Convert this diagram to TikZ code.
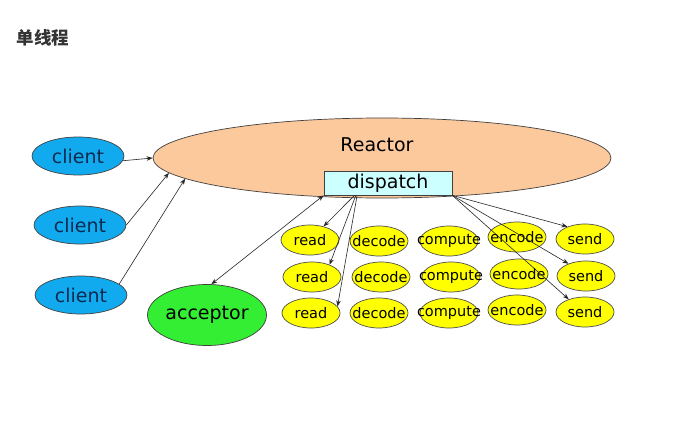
\documentclass[tikz,border=0pt]{standalone}
\usepackage{fontspec}
\setmainfont{DejaVu Sans}
\newfontfamily\cjk{Noto Sans CJK SC}
\usetikzlibrary{shapes.geometric,arrows.meta,calc}
\definecolor{reactorfill}{HTML}{FCC99C}
\definecolor{dispfill}{HTML}{CCFFFF}
\definecolor{clientfill}{HTML}{12AAEE}
\definecolor{clienttext}{HTML}{0D2B50}
\definecolor{accfill}{HTML}{33EE33}
\definecolor{yel}{HTML}{FFFF00}
\definecolor{titlecol}{HTML}{333333}
\tikzset{
  bigtext/.style={font=\fontsize{19}{21}\selectfont},
  smalltext/.style={font=\fontsize{14.5}{16}\selectfont},
  clientnode/.style={ellipse, draw=black!75, line width=0.7pt, fill=clientfill, text=clienttext,
    minimum width=92pt, minimum height=38pt, inner sep=0pt, bigtext},
  worknode/.style={ellipse, draw=black!70, line width=0.7pt, fill=yel,
    minimum width=58pt, minimum height=30pt, inner ysep=0pt, inner xsep=-14pt, smalltext},
  conn/.style={draw=black!85, line width=0.6pt, -{Stealth[length=6pt,width=4.5pt]}},
  dconn/.style={draw=black!85, line width=0.6pt, {Stealth[length=6pt,width=4.5pt]}-{Stealth[length=6pt,width=4.5pt]}}
}
\begin{document}
\begin{tikzpicture}[x=1pt,y=-1pt]
\useasboundingbox[fill=white] (0,0) rectangle (680,447);
\node[anchor=west, text=titlecol, font=\cjk\bfseries\fontsize{17.5}{19}\selectfont] (title) at (13,38) {单线程};

\node[ellipse, draw=black!75, line width=0.7pt, fill=reactorfill, minimum width=458pt, minimum height=80pt, inner sep=0pt] (reactor) at (382,158) {};
\node[bigtext] (reactorlabel) at (377,145) {Reactor};
\node[draw=black!75, line width=0.7pt, fill=dispfill, minimum width=128pt, minimum height=24pt, inner sep=0pt, bigtext] (dispatch) at (388,183) {dispatch};

\node[clientnode] (client1) at (78,156) {client};
\node[clientnode] (client2) at (80,225) {client};
\node[clientnode] (client3) at (81,295) {client};

\node[ellipse, draw=black!75, line width=0.7pt, fill=accfill, minimum width=119pt, minimum height=61pt, inner sep=0pt, bigtext] (acceptor) at (207,315) {acceptor};

% row 1
\node[worknode] (read1) at (310,240) {read};
\node[worknode] (decode1) at (379,241) {decode};
\node[worknode] (compute1) at (449,241) {compute};
\node[worknode] (encode1) at (517,237) {encode};
\node[worknode] (send1) at (585,239) {send};
% row 2
\node[worknode] (read2) at (312,277) {read};
\node[worknode] (decode2) at (381,277) {decode};
\node[worknode] (compute2) at (451,277) {compute};
\node[worknode] (encode2) at (519,274) {encode};
\node[worknode] (send2) at (586,276) {send};
% row 3
\node[worknode] (read3) at (311,313) {read};
\node[worknode] (decode3) at (379,313) {decode};
\node[worknode] (compute3) at (449,313) {compute};
\node[worknode] (encode3) at (517,310) {encode};
\node[worknode] (send3) at (585,312) {send};

% client connectors
\draw[conn] (client1.-6) -- (reactor.west);
\draw[conn] (client2.east) -- (reactor.184);
\draw[conn] (client3.16) -- (reactor.186);

% acceptor
\draw[dconn] (dispatch.south west) -- (acceptor.82);

% dispatch to reads
\coordinate (dA) at ($(dispatch.south west)!0.24!(dispatch.south east)$);
\coordinate (dB) at ($(dispatch.south west)!0.25!(dispatch.south east)$);
\coordinate (dC) at ($(dispatch.south west)!0.26!(dispatch.south east)$);
\draw[conn] (dA) -- (read1);
\draw[conn] (dB) -- (read2.35);
\draw[conn] (dC) -- (read3.14);

% dispatch to sends
\draw[conn] (dispatch.south east) -- (send1.145);
\draw[conn] (dispatch.south east) -- (send2.145);
\draw[conn] (dispatch.south east) -- (send3.142);
\end{tikzpicture}
\end{document}
